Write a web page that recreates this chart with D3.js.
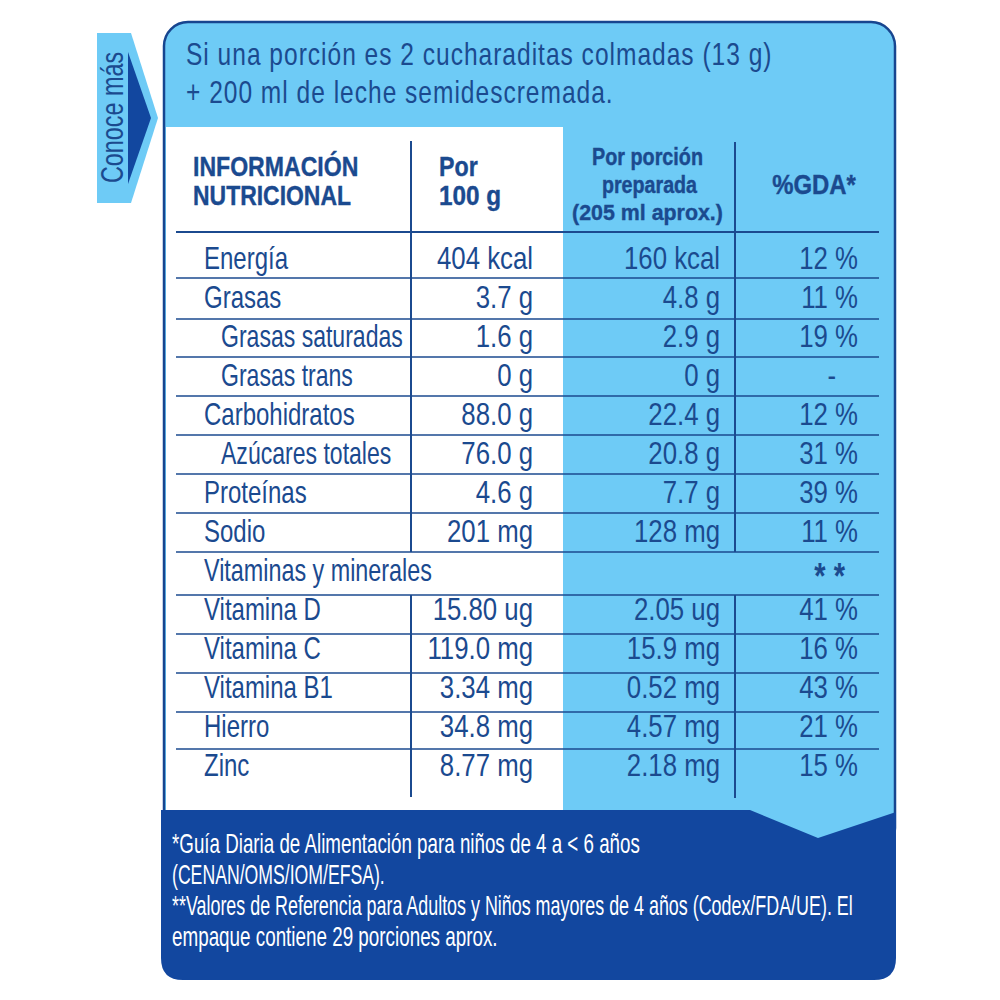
<!DOCTYPE html>
<html>
<head>
<meta charset="utf-8">
<script src="https://d3js.org/d3.v7.min.js"></script>
<style>
  html, body { margin: 0; padding: 0; background: #fff; }
  text { font-family: "Liberation Sans", sans-serif; }
</style>
</head>
<body>
<svg id="chart" width="1000" height="1000"></svg>
<script>
const nutrients = ['Energía', 'Grasas', 'Grasas saturadas', 'Grasas trans', 'Carbohidratos', 'Azúcares totales', 'Proteínas', 'Sodio', 'Vitaminas y minerales', 'Vitamina D', 'Vitamina C', 'Vitamina B1', 'Hierro', 'Zinc'];
const levels = [0, 0, 1, 1, 0, 1, 0, 0, 0, 0, 0, 0, 0, 0];
const per100 = ['404 kcal', '3.7 g', '1.6 g', '0 g', '88.0 g', '76.0 g', '4.6 g', '201 mg', '', '15.80 ug', '119.0 mg', '3.34 mg', '34.8 mg', '8.77 mg'];
const perPortion = ['160 kcal', '4.8 g', '2.9 g', '0 g', '22.4 g', '20.8 g', '7.7 g', '128 mg', '', '2.05 ug', '15.9 mg', '0.52 mg', '4.57 mg', '2.18 mg'];
const gda = ['12 %', '11 %', '19 %', '-', '12 %', '31 %', '39 %', '11 %', '* *', '41 %', '16 %', '43 %', '21 %', '15 %'];
const introLines = ['Si una porción es 2 cucharaditas colmadas (13 g)', '+ 200 ml de leche semidescremada.'];
const footLines = ['*Guía Diaria de Alimentación para niños de 4 a < 6 años', '(CENAN/OMS/IOM/EFSA).', '**Valores de Referencia para Adultos y Niños mayores de 4 años (Codex/FDA/UE). El', 'empaque contiene 29 porciones aprox.'];
const footSqueeze = [0.695, 0.654, 0.663, 0.698];

const navy = '#1b4a8f', dark = '#12479f', light = '#6ecbf6';
const svg = d3.select('#chart');
const rowY = d3.scaleLinear().domain([0, 13]).range([258, 765]);

// the original face is a narrow grotesque, so squeeze the text sideways
const squeezed = (g, x, y, sx) => g.attr('transform', `translate(${x},${y}) scale(${sx},1)`);

// panel
svg.append('rect').attr('x', 164).attr('y', 22).attr('width', 731).attr('height', 830).attr('rx', 24)
  .attr('fill', light).attr('stroke', '#17458f').attr('stroke-width', 2.5);
svg.append('rect').attr('x', 166).attr('y', 127).attr('width', 397).attr('height', 690).attr('fill', '#fff');

// footer
svg.append('path')
  .attr('d', 'M161,810 H750 L818,838 L896,812 V958 Q896,980 874,980 H183 Q161,980 161,958 Z')
  .attr('fill', dark);

// side tab
svg.append('path').attr('d', 'M97,33 H131 L158,118 L131,203 H97 Z').attr('fill', light);
svg.append('path').attr('d', 'M128,52 L151,118 L128,184 Z').attr('fill', dark);
svg.append('text').attr('transform', 'translate(123,183) rotate(-90) scale(0.73,1)')
  .attr('font-size', 32).attr('fill', navy).text('Conoce más');

// intro
svg.selectAll('text.intro').data(introLines).join('text').attr('class', 'intro')
  .attr('transform', (d, i) => `translate(186,${64.5 + i * 38.5}) scale(0.767,1)`)
  .attr('font-size', 32).attr('letter-spacing', 1.3).attr('fill', navy).text(d => d);

// grid lines
const lineYs = [232, 278, 319, 357, 396, 435, 474, 513, 552, 595, 634, 673, 712, 749];
svg.selectAll('line.row').data(lineYs).join('line').attr('class', 'row')
  .attr('x1', 176).attr('x2', 879).attr('y1', d => d).attr('y2', d => d)
  .attr('stroke', navy).attr('stroke-width', (d, i) => i === 0 ? 2 : 1.4);
[[411, 141, 552], [411, 595, 797], [735, 142, 552], [735, 595, 798]].forEach(([x, y1, y2]) => {
  svg.append('line').attr('x1', x).attr('x2', x).attr('y1', y1).attr('y2', y2)
    .attr('stroke', navy).attr('stroke-width', 2);
});

// headers
const head = (x, y, size, anchor, sx, t) => svg.append('text').call(squeezed, x, y, sx)
  .attr('font-size', size).attr('font-weight', 700).attr('text-anchor', anchor).attr('fill', navy)
  .attr('stroke', navy).attr('stroke-width', 0.4).text(t);
head(193, 176, 27, 'start', 0.855, 'INFORMACIÓN');
head(193, 205, 27, 'start', 0.85, 'NUTRICIONAL');
head(439, 176, 27, 'start', 0.86, 'Por');
head(439, 205, 27, 'start', 0.9, '100 g');
head(647.5, 165, 23, 'middle', 0.86, 'Por porción');
head(649.5, 193, 23, 'middle', 0.856, 'preparada');
head(647.5, 220, 23, 'middle', 0.93, '(205 ml aprox.)');
head(814, 194, 27, 'middle', 0.885, '%GDA*');

// rows
const cell = (values, x, sx, anchor) => svg.append('g').selectAll('text').data(values).join('text')
  .attr('transform', (d, i) => `translate(${x(d, i)},${rowY(i) + 11}) scale(${sx(d, i)},1)`)
  .attr('text-anchor', anchor).attr('font-size', 32).attr('fill', navy).text(d => d);
cell(nutrients, (d, i) => levels[i] ? 221 : 204, (d, i) => levels[i] ? 0.72 : d === 'Vitaminas y minerales' ? 0.73 : 0.75, 'start');
cell(per100, () => 533, () => 0.806, 'end');
cell(perPortion, () => 720, () => 0.806, 'end');
cell(gda, d => d === '-' ? 836 : d === '* *' ? 845 : 858, () => 0.806, 'end')
  .filter(d => d === '* *')
  .attr('font-weight', 700).attr('font-size', 36).attr('dy', 8);

// footer text
svg.selectAll('text.foot').data(footLines).join('text').attr('class', 'foot')
  .attr('transform', (d, i) => `translate(172,${853 + i * 31}) scale(${footSqueeze[i]},1)`)
  .attr('font-size', 27).attr('fill', '#fff').text(d => d);
</script>
</body>
</html>
